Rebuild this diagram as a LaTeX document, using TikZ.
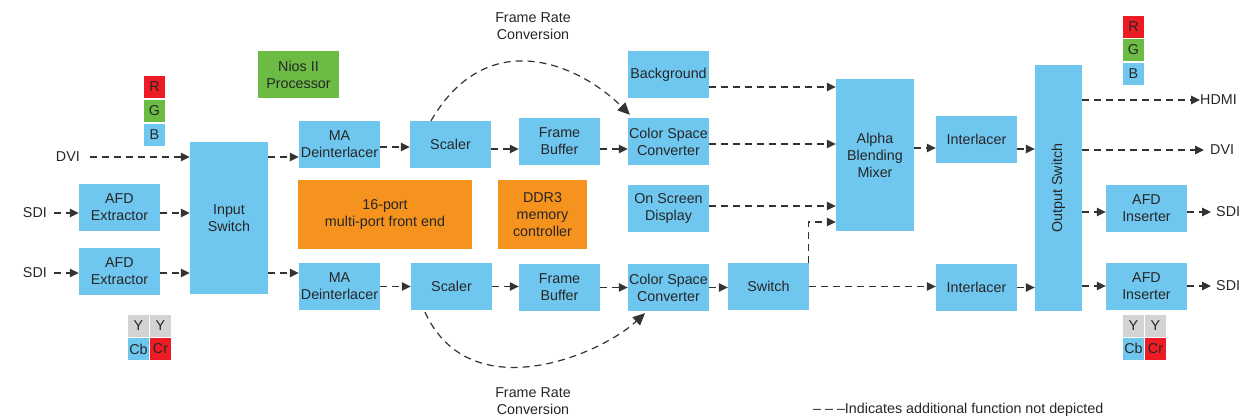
\documentclass[tikz,border=0pt]{standalone}
\usepackage{fontspec}
\usepackage{graphicx}
\setmainfont{Liberation Sans}
\usetikzlibrary{arrows.meta}
\definecolor{ipblue}{RGB}{111,199,240}
\definecolor{ipgreen}{RGB}{108,187,69}
\definecolor{iporange}{RGB}{246,146,30}
\definecolor{ipred}{RGB}{237,28,36}
\definecolor{ipgray}{RGB}{209,211,212}
\begin{document}
\begin{tikzpicture}[
x=1pt,y=-1pt,
every node/.style={font=\fontsize{14.3}{17}\selectfont,align=center,inner sep=0pt,text=black!85},
block/.style={fill=ipblue,minimum width=81pt,minimum height=47pt},
tall/.style={fill=ipblue,minimum width=78pt,minimum height=152pt},
chip/.style={fill=iporange,minimum height=69pt},
swatch/.style={minimum width=21pt,minimum height=22pt},
flow/.style={draw=black!80,line width=1.2pt,dash pattern=on 7pt off 5pt,-{Triangle[length=9pt,width=8.5pt]}},
loop/.style={flow,-{Triangle[length=12pt,width=11pt]}}
]
\useasboundingbox (0,0) rectangle (1245,420);

% inputs
\node[anchor=east] (dviin) at (80,157) {DVI};
\node[anchor=east] (sdiin1) at (47,213) {SDI};
\node[anchor=east] (sdiin2) at (47,273) {SDI};
\node[swatch,fill=ipred] (rl) at (154.5,87) {R};
\node[swatch,fill=ipgreen] (gl) at (154.5,111) {G};
\node[swatch,fill=ipblue] (bl) at (154.5,135) {B};
\node[swatch,fill=ipgray] (yl1) at (138.5,326) {Y};
\node[swatch,fill=ipgray] (yl2) at (160.5,326) {Y};
\node[swatch,fill=ipblue] (cbl) at (138.5,349) {Cb};
\node[swatch,fill=ipred] (crl) at (160.5,349) {Cr};
\node[block] (afdx1) at (119.5,207.5) {AFD\\Extractor};
\node[block] (afdx2) at (119.5,271.5) {AFD\\Extractor};
\node[tall] (insw) at (229,218) {Input\\Switch};

% processing
\node[block,fill=ipgreen] (nios) at (298.5,74.5) {Nios II\\Processor};
\node[block] (madi1) at (339.5,144.5) {MA\\Deinterlacer};
\node[block] (scl1) at (450.5,144.5) {Scaler};
\node[block] (fb1) at (559.5,141.5) {Frame\\Buffer};
\node[block] (csc1) at (668.5,141.5) {Color Space\\Converter};
\node[block] (bg) at (668.5,74.5) {Background};
\node[chip,minimum width=174pt] (mfe) at (385,214.5) {16-port\\multi-port front end};
\node[chip,minimum width=89pt] (ddr) at (542.5,214.5) {DDR3\\memory\\controller};
\node[block] (osd) at (668.5,208.5) {On Screen\\Display};
\node[block] (madi2) at (339.5,286.5) {MA\\Deinterlacer};
\node[block] (scl2) at (451.5,286.5) {Scaler};
\node[block] (fb2) at (559.5,287.5) {Frame\\Buffer};
\node[block] (csc2) at (668.5,287.5) {Color Space\\Converter};
\node[block] (swt) at (768.5,286.5) {Switch};
\node[tall] (mix) at (875,155) {Alpha\\Blending\\Mixer};
\node (frctop) at (533,26.5) {Frame Rate\\Conversion};
\node (frcbot) at (533,401.5) {Frame Rate\\Conversion};

% outputs
\node[block] (il1) at (976.5,139.5) {Interlacer};
\node[block] (il2) at (976.5,287.5) {Interlacer};
\node[fill=ipblue,minimum width=47pt,minimum height=246pt] (osw) at (1058.5,188) {\rotatebox{90}{Output Switch}};
\node[block] (afdi1) at (1146.5,208.5) {AFD\\Inserter};
\node[block] (afdi2) at (1146.5,286.5) {AFD\\Inserter};
\node[anchor=west] (hdmi) at (1200,100) {HDMI};
\node[anchor=west] (dviout) at (1210,150) {DVI};
\node[anchor=west] (sdiout1) at (1216,212) {SDI};
\node[anchor=west] (sdiout2) at (1216,286) {SDI};
\node[swatch,fill=ipred] (rr) at (1133.5,27) {R};
\node[swatch,fill=ipgreen] (gr) at (1133.5,50) {G};
\node[swatch,fill=ipblue] (br) at (1133.5,74) {B};
\node[swatch,fill=ipgray] (yr1) at (1133.5,326) {Y};
\node[swatch,fill=ipgray] (yr2) at (1155.5,326) {Y};
\node[swatch,fill=ipblue] (cbr) at (1133.5,348.5) {Cb};
\node[swatch,fill=ipred] (crr) at (1155.5,348.5) {Cr};
\node[anchor=west] (legend) at (813,410) {– – –Indicates additional function not depicted};

% input side
\draw[flow] ([xshift=10pt]dviin.east) -- (dviin -| insw.west);
\draw[flow] ([xshift=7pt]sdiin1.east) -- (sdiin1 -| afdx1.west);
\draw[flow] ([xshift=7pt]sdiin2.east) -- (sdiin2 -| afdx2.west);
\draw[flow] (sdiin1 -| afdx1.east) -- (sdiin1 -| insw.west);
\draw[flow] (sdiin2 -| afdx2.east) -- (sdiin2 -| insw.west);
\draw[flow] (dviin -| insw.east) -- (dviin -| madi1.west);
\draw[flow] (sdiin2 -| insw.east) -- (sdiin2 -| madi2.west);

% upper path
\draw[flow] ([yshift=-2.5pt]madi1.east) -- ([yshift=-2.5pt]madi1.east -| scl1.west);
\draw[flow] ([yshift=-4.5pt]scl1.east) -- ([yshift=-4.5pt]scl1.east -| fb1.west);
\draw[flow] ([yshift=-7.5pt]fb1.east) -- ([yshift=-7.5pt]fb1.east -| csc1.west);
\draw[loop] ([xshift=-19.5pt]scl1.north) .. controls (488,23) and (580,65) .. ([xshift=2pt,yshift=3pt]csc1.north west);

% lower path
\draw[flow] (madi2.east) -- (madi2.east -| scl2.west);
\draw[flow] (scl2.east) -- (scl2.east -| fb2.west);
\draw[flow] (fb2.east) -- (fb2.east -| csc2.west);
\draw[flow] (csc2.east) -- (csc2.east -| swt.west);
\draw[loop] ([xshift=-26.5pt,yshift=-2pt]scl2.south) .. controls (470,410) and (600,355) .. ([xshift=-23.5pt,yshift=-2pt]csc2.south);

% mixer
\draw[flow] ([yshift=-12.5pt]bg.east) -- ([yshift=-12.5pt]bg.east -| mix.west);
\draw[flow] ([yshift=-2.5pt]csc1.east) -- ([yshift=-2.5pt]csc1.east -| mix.west);
\draw[flow] ([yshift=2.5pt]osd.east) -- ([yshift=2.5pt]osd.east -| mix.west);
\draw[flow] ([xshift=-1pt]swt.north east) |- ([yshift=-67pt]mix.west);
\draw[flow] ([yshift=-8.5pt]il1.west -| mix.east) -- ([yshift=-8.5pt]il1.west);
\draw[flow] (swt.east) -- (swt.east -| il2.west);

% output side
\draw[flow] ([yshift=-9.5pt]il1.east) -- ([yshift=-9.5pt]il1.east -| osw.west);
\draw[flow] (il2.east) -- (il2.east -| osw.west);
\draw[flow] (hdmi -| osw.east) -- (hdmi.west);
\draw[flow] (dviout -| osw.east) -- ([xshift=-6pt]dviout.west);
\draw[flow] (sdiout1 -| osw.east) -- (sdiout1 -| afdi1.west);
\draw[flow] (sdiout2 -| osw.east) -- (sdiout2 -| afdi2.west);
\draw[flow] (sdiout1 -| afdi1.east) -- ([xshift=-5pt]sdiout1.west);
\draw[flow] (sdiout2 -| afdi2.east) -- ([xshift=-5pt]sdiout2.west);
\end{tikzpicture}
\end{document}
